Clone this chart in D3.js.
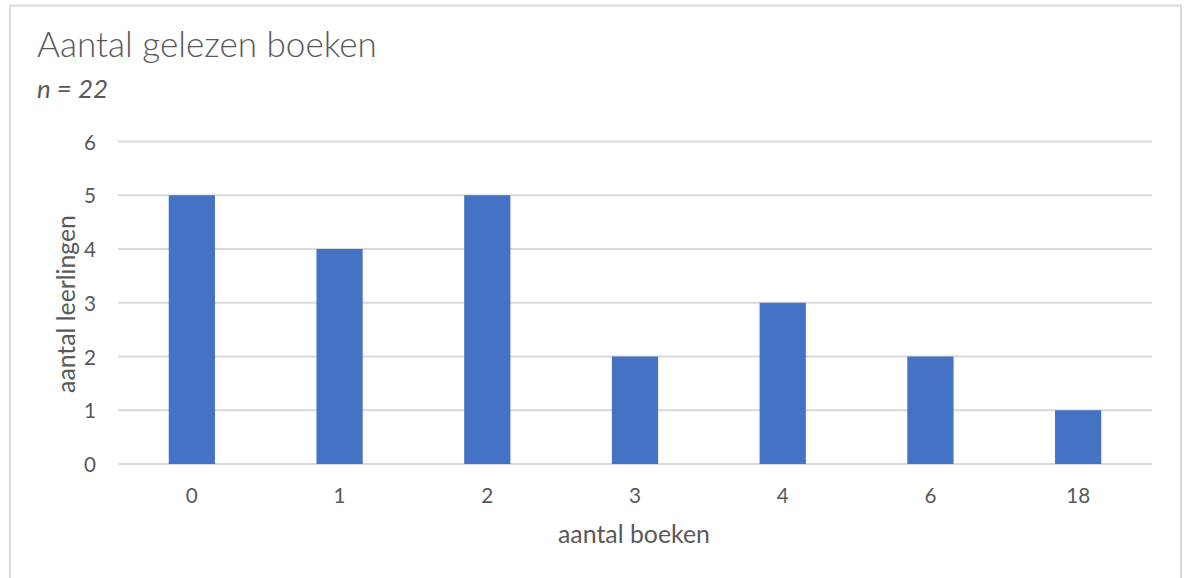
<!DOCTYPE html>
<html>
<head>
<meta charset="utf-8">
<script src="https://cdn.jsdelivr.net/npm/d3@7"></script>
<style>
  html, body { margin: 0; padding: 0; background: #fff; }
  svg { display: block; }
  text { font-family: Lato, "Open Sans", sans-serif; fill: #595959; }
</style>
</head>
<body>
<script>
const categories = ["0", "1", "2", "3", "4", "6", "18"];
const values = [5, 4, 5, 2, 3, 2, 1];
const yTicks = [0, 1, 2, 3, 4, 5, 6];
const titleText = "Aantal gelezen boeken";
const subtitleText = "n = 22";
const xTitle = "aantal boeken";
const yTitle = "aantal leerlingen";

const W = 1187, H = 578;
const svg = d3.select("body").append("svg").attr("width", W).attr("height", H);

// chart border
svg.append("rect").attr("x", 10).attr("y", 5.5).attr("width", 1171).attr("height", 600)
  .attr("fill", "#fff").attr("stroke", "#d9d9d9").attr("stroke-width", 2);

const x = d3.scaleBand().domain(categories).range([118, 1152]).padding(0);
const y = d3.scaleLinear().domain([0, 6]).range([464, 141.5]);

function fit(sel, target) {
  const base = parseFloat(sel.attr("font-size"));
  const w = sel.node().getComputedTextLength();
  sel.attr("font-size", base * target / w);
  return sel;
}

// gridlines
svg.append("g").selectAll("line").data(yTicks).join("line")
  .attr("x1", 118).attr("x2", 1152)
  .attr("y1", d => y(d)).attr("y2", d => y(d))
  .attr("stroke", "#d9d9d9").attr("stroke-width", 1.8);

// bars
const bw = x.step() * 0.313;
svg.append("g").selectAll("rect").data(categories).join("rect")
  .attr("x", (d) => x(d) + x.bandwidth() / 2 - bw / 2)
  .attr("width", bw)
  .attr("y", (d, i) => y(values[i]))
  .attr("height", (d, i) => y(0) - y(values[i]))
  .attr("fill", "#4472C4");

// tick font size from "18"
const probe = svg.append("text").attr("font-size", 20).text("18");
fit(probe, 24);
const tickFs = parseFloat(probe.attr("font-size"));
probe.remove();

// y tick labels
svg.append("g").selectAll("text").data(yTicks).join("text")
  .attr("x", 96).attr("y", d => y(d))
  .attr("text-anchor", "end").attr("dominant-baseline", "central")
  .attr("font-size", tickFs).text(d => d);

// x tick labels
svg.append("g").selectAll("text").data(categories).join("text")
  .attr("x", d => x(d) + x.bandwidth() / 2).attr("y", 503)
  .attr("text-anchor", "middle")
  .attr("font-size", tickFs).text(d => d);

// title
const t = svg.append("text").attr("x", 37).attr("y", 57).attr("font-size", 34)
  .attr("font-weight", 300).text(titleText);
fit(t, 340);
const st = svg.append("text").attr("x", 37).attr("y", 98).attr("font-size", 24)
  .attr("font-style", "italic").text(subtitleText);
fit(st, 71);

// axis titles
const xt = svg.append("text").attr("x", 634).attr("y", 543).attr("text-anchor", "middle")
  .attr("font-size", 24).text(xTitle);
fit(xt, 152);
const yt = svg.append("text").attr("transform", "translate(75,304) rotate(-90)")
  .attr("text-anchor", "middle").attr("font-size", 24).text(yTitle);
fit(yt, 178);
</script>
</body>
</html>
